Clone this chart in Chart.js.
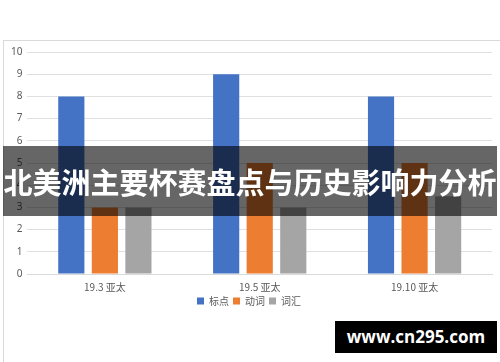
<!DOCTYPE html>
<html>
<head>
<meta charset="utf-8">
<script src="https://cdn.jsdelivr.net/npm/chart.js@4"></script>
<style>
  body { margin: 0; background: #fff; }
  #wrap { position: relative; width: 500px; height: 362px; overflow: hidden; font-family: "Noto Sans CJK SC", sans-serif; }
  #frame { position: absolute; left: 3px; top: 40px; width: 500px; height: 330px; border: 1px solid #d9d9d9; box-sizing: border-box; }
  canvas { position: absolute; left: 0; top: 0; }
  #banner { position: absolute; left: 3px; top: 146px; width: 494px; height: 70px; background: rgba(0,0,0,0.6);
    color: #fff; font-weight: bold; font-size: 29px; line-height: 70px; text-align: center; white-space: nowrap; }
  #mark { position: absolute; left: 335px; top: 321px; width: 162px; height: 32px; background: #000; color: #fff;
    font-family: "Open Sans", sans-serif; font-weight: bold; font-size: 17px; line-height: 32px; text-align: center; }
</style>
</head>
<body>
<div id="wrap">
  <div id="frame"></div>
  <canvas id="chart" width="500" height="362"></canvas>
  <div id="banner">北美洲主要杯赛盘点与历史影响力分析</div>
  <div id="mark">www.cn295.com</div>
</div>
<script>
// data
const categories = ["19.3 亚太", "19.5 亚太", "19.10 亚太"];
const biaodian = [8, 9, 8];
const dongci = [3, 5, 5];
const cihui = [3, 3, 3.5];

const chart = new Chart(document.getElementById("chart"), {
    type: "bar",
    data: {
        labels: categories,
        datasets: [
            { label: "标点", data: biaodian, backgroundColor: "#4472C4" },
            { label: "动词", data: dongci, backgroundColor: "#ED7D31" },
            { label: "词汇", data: cihui, backgroundColor: "#A5A5A5" }
        ]
    },
    options: {
        responsive: false,
        animation: false,
        layout: { padding: { left: 6, right: 8, top: 52, bottom: 46 } },
        datasets: { bar: { categoryPercentage: 0.65, barPercentage: 0.78 } },
        plugins: {
            legend: {
                position: "bottom",
                labels: { boxWidth: 7, boxHeight: 7, padding: 4, color: "#595959",
                    font: { family: "'Noto Sans CJK SC', sans-serif", size: 10 } }
            },
            tooltip: { enabled: false }
        },
        scales: {
            x: {
                grid: { display: false },
                border: { color: "#d9d9d9" },
                ticks: { color: "#595959", padding: 0, font: { family: "'Noto Sans CJK SC', sans-serif", size: 10, lineHeight: 1 } }
            },
            y: {
                min: 0, max: 10,
                ticks: { stepSize: 1, color: "#595959", padding: 5, font: { family: "'Noto Sans', sans-serif", size: 10 } },
                grid: { color: "#e0e0e0", drawTicks: false },
                border: { display: false }
            }
        }
    }
});
</script>
</body>
</html>
